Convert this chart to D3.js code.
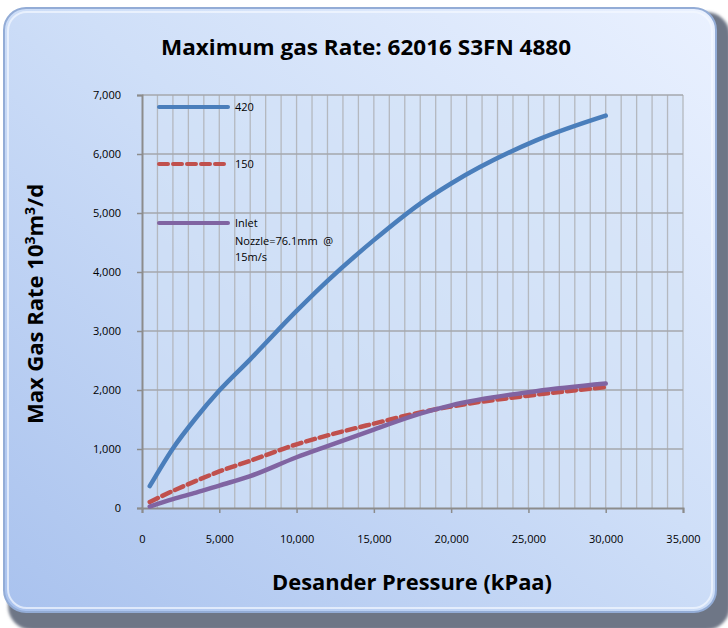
<!DOCTYPE html>
<html>
<head>
<meta charset="utf-8">
<script src="https://cdn.jsdelivr.net/npm/d3@7"></script>
<style>
  body { margin: 0; background: #fff; }
  text { font-family: "Liberation Sans Narrow", "Open Sans", "Noto Sans", sans-serif; }
</style>
</head>
<body>
<svg width="728" height="628"></svg>
<script>
// data
var pressure = [500, 2000, 3500, 5000, 7000, 10000, 12000, 15000, 18000, 20000, 25500, 30000];
var rate420 = [370, 1010, 1530, 1990, 2520, 3340, 3850, 4540, 5160, 5500, 6230, 6650];
var rate150 = [100, 290, 460, 620, 800, 1080, 1230, 1430, 1620, 1720, 1920, 2050];
var rateInlet = [25, 150, 260, 380, 540, 860, 1050, 1330, 1600, 1740, 1980, 2110];
var seriesNames = ["420", "150", "Inlet"];
var xTicks = [0, 5000, 10000, 15000, 20000, 25000, 30000, 35000];
var yTicks = [0, 1000, 2000, 3000, 4000, 5000, 6000, 7000];

var svg = d3.select("svg");
var defs = svg.append("defs");

var bg = defs.append("linearGradient").attr("id", "bg")
  .attr("x1", "0%").attr("y1", "100%").attr("x2", "100%").attr("y2", "0%");
bg.append("stop").attr("offset", "0%").attr("stop-color", "#a9c2ee");
bg.append("stop").attr("offset", "55%").attr("stop-color", "#cfdff8");
bg.append("stop").attr("offset", "100%").attr("stop-color", "#eaf1ff");

var blur = defs.append("filter").attr("id", "soft");
blur.append("feGaussianBlur").attr("stdDeviation", 1.5);

// outer frame: dark bevel behind, light panel on top
svg.append("rect")
  .attr("x", 8).attr("y", 12).attr("width", 722).attr("height", 618)
  .attr("rx", 24).attr("ry", 24)
  .attr("fill", "#6e7686")
  .attr("filter", "url(#soft)");
svg.append("rect")
  .attr("x", 4).attr("y", 8).attr("width", 712).attr("height", 604)
  .attr("rx", 22).attr("ry", 22)
  .attr("fill", "url(#bg)")
  .attr("stroke", "#93acd6").attr("stroke-width", 2);
svg.append("rect")
  .attr("x", 8).attr("y", 12).attr("width", 704).attr("height", 596)
  .attr("rx", 19).attr("ry", 19)
  .attr("fill", "none")
  .attr("stroke", "#f4f8ff").attr("stroke-opacity", 0.7).attr("stroke-width", 2);

var margin = {left: 142, top: 95, right: 683, bottom: 508};

var x = d3.scaleLinear().domain([0, 35000]).range([margin.left, margin.right]);
var y = d3.scaleLinear().domain([0, 7000]).range([margin.bottom, margin.top]);

// plot area
svg.append("rect")
  .attr("x", x(0)).attr("y", y(7000))
  .attr("width", x(35000) - x(0)).attr("height", y(0) - y(7000))
  .attr("fill", "#d3e2f7").attr("fill-opacity", 0.6);

// gridlines
var grid = svg.append("g");
grid.selectAll("line.v")
  .data(d3.range(1000, 35001, 1000))
  .enter().append("line")
  .attr("x1", function(d) { return x(d); })
  .attr("x2", function(d) { return x(d); })
  .attr("y1", y(0)).attr("y2", y(7000))
  .attr("stroke", "#b4b8bf").attr("stroke-width", 1.3);
grid.selectAll("line.h")
  .data(yTicks.slice(1))
  .enter().append("line")
  .attr("x1", x(0)).attr("x2", x(35000))
  .attr("y1", function(d) { return y(d); })
  .attr("y2", function(d) { return y(d); })
  .attr("stroke", "#a4a7ac").attr("stroke-width", 1.5);

// axes
var xAxis = svg.append("g")
  .attr("transform", "translate(0," + y(0) + ")")
  .call(d3.axisBottom(x).tickValues(xTicks).tickSize(5).tickPadding(22).tickFormat(d3.format(",")));
var yAxis = svg.append("g")
  .attr("transform", "translate(" + x(0) + ",0)")
  .call(d3.axisLeft(y).tickValues(yTicks).tickSize(5).tickPadding(16).tickFormat(d3.format(",")));
[xAxis, yAxis].forEach(function(a) {
  a.select(".domain").attr("stroke", "#8c8c8c").attr("stroke-width", 2);
  a.selectAll(".tick line").attr("stroke", "#8c8c8c").attr("stroke-width", 1.5);
  a.selectAll(".tick text").attr("font-size", 11).attr("fill", "#000")
    .style("font-family", "'Liberation Sans Narrow', 'Open Sans', sans-serif");
});

// series
var line = d3.line()
  .x(function(d) { return x(d[0]); })
  .y(function(d) { return y(d[1]); })
  .curve(d3.curveMonotoneX);

var series = [
  {name: seriesNames[0], vals: rate420, color: "#4a7ebb", dash: null},
  {name: seriesNames[1], vals: rate150, color: "#c0504d", dash: "9,5"},
  {name: seriesNames[2], vals: rateInlet, color: "#8064a2", dash: null}
];

svg.append("g").selectAll("path")
  .data(series)
  .enter().append("path")
  .attr("d", function(s) { return line(d3.zip(pressure, s.vals)); })
  .attr("fill", "none")
  .attr("stroke", function(s) { return s.color; })
  .attr("stroke-width", 4.5)
  .attr("stroke-linecap", "round")
  .attr("stroke-linejoin", "round")
  .attr("stroke-dasharray", function(s) { return s.dash; });

// legend inside the plot
var legendY = [107, 164, 223];
var legend = svg.append("g").selectAll("g")
  .data(series)
  .enter().append("g")
  .attr("transform", function(s, i) { return "translate(159," + legendY[i] + ")"; });
legend.append("line")
  .attr("x1", 0).attr("x2", 69)
  .attr("stroke", function(s) { return s.color; })
  .attr("stroke-width", 4)
  .attr("stroke-linecap", "round")
  .attr("stroke-dasharray", function(s) { return s.dash; });
legend.append("text")
  .attr("x", 76).attr("y", 4)
  .attr("font-size", 11)
  .text(function(s) { return s.name; });
svg.append("text").attr("x", 235).attr("y", 245).attr("font-size", 11)
  .attr("xml:space", "preserve").text("Nozzle=76.1mm  @");
svg.append("text").attr("x", 235).attr("y", 261).attr("font-size", 11).text("15m/s");

// titles
svg.append("text")
  .attr("x", 366).attr("y", 55)
  .attr("text-anchor", "middle")
  .attr("font-size", 21).attr("font-weight", "bold")
  .attr("textLength", 410).attr("lengthAdjust", "spacingAndGlyphs")
  .text("Maximum gas Rate: 62016 S3FN 4880");

svg.append("text")
  .attr("x", 412).attr("y", 590)
  .attr("text-anchor", "middle")
  .attr("font-size", 22).attr("font-weight", "bold")
  .attr("textLength", 280).attr("lengthAdjust", "spacingAndGlyphs")
  .text("Desander Pressure (kPaa)");

var yl = svg.append("text")
  .attr("transform", "translate(43,304) rotate(-90)")
  .attr("text-anchor", "middle")
  .attr("font-size", 22).attr("font-weight", "bold");
yl.append("tspan").text("Max Gas Rate  10");
yl.append("tspan").attr("dy", -8).attr("font-size", 14).text("3");
yl.append("tspan").attr("dy", 8).text("m");
yl.append("tspan").attr("dy", -8).attr("font-size", 14).text("3");
yl.append("tspan").attr("dy", 8).text("/d");
</script>
</body>
</html>
